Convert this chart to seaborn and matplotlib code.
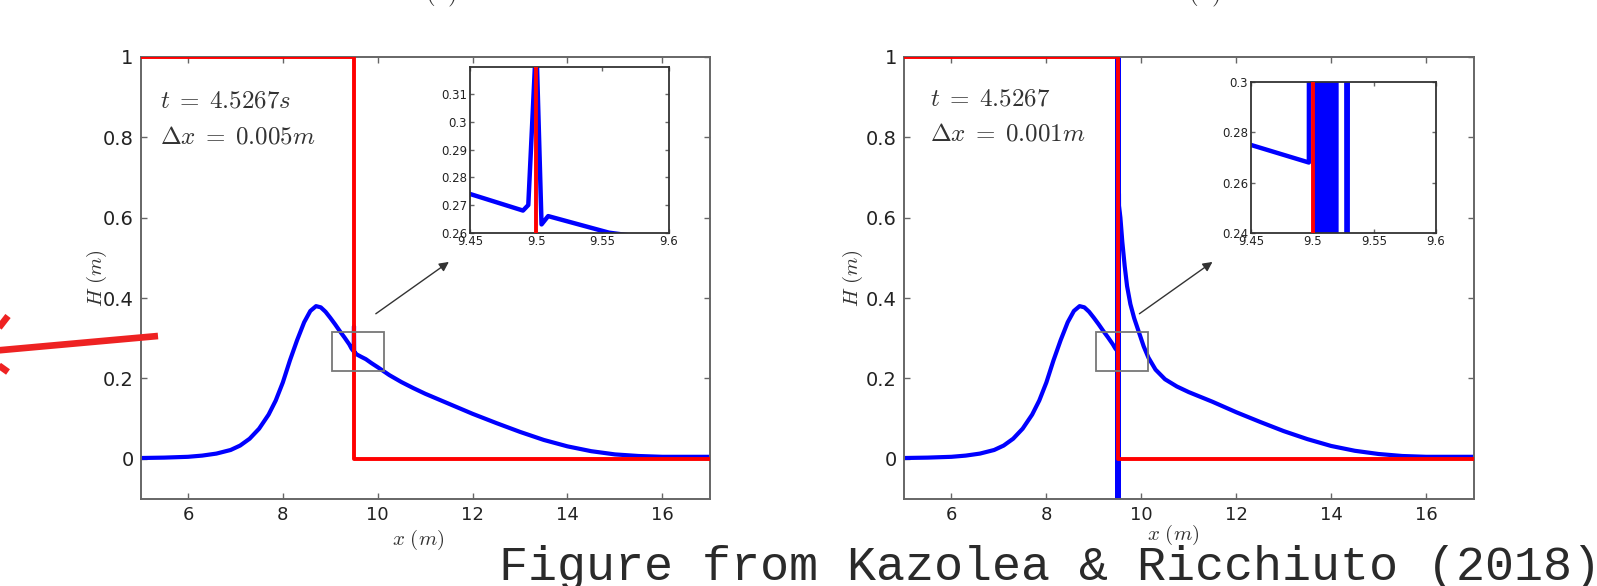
import numpy as np
import pandas as pd
import matplotlib
matplotlib.use("Agg")
import matplotlib.pyplot as plt
import seaborn as sns
from matplotlib.patches import Rectangle
from matplotlib.lines import Line2D

# ---------------- data ----------------
# panel (a): dx = 0.005 m
a_x = [5.0, 5.5, 6.0, 6.3, 6.6, 6.9, 7.1, 7.3, 7.5, 7.7, 7.85, 8.0, 8.15, 8.3, 8.45,
       8.58, 8.7, 8.8, 8.9, 9.0, 9.1, 9.2, 9.3, 9.4, 9.45,
       9.49, 9.494, 9.5, 9.504, 9.509, 9.555, 9.65, 9.75, 9.87, 10.0, 10.25, 10.5,
       10.75, 11.0, 11.5, 12.0, 12.5, 13.0, 13.5, 14.0, 14.5, 15.0, 15.5, 16.0, 17.0]
a_h = [0.002, 0.003, 0.005, 0.008, 0.013, 0.022, 0.033, 0.05, 0.075, 0.11, 0.145, 0.19,
       0.245, 0.295, 0.34, 0.368, 0.38, 0.377, 0.366, 0.351, 0.335, 0.318, 0.302, 0.285,
       0.274, 0.268, 0.270, 0.33, 0.263, 0.266, 0.260, 0.254, 0.248, 0.238, 0.228,
       0.208, 0.191, 0.176, 0.162, 0.137, 0.112, 0.089, 0.067, 0.047, 0.031, 0.019,
       0.011, 0.007, 0.005, 0.005]

# panel (b): dx = 0.001 m (oscillating shock near x = 9.5)
b_x = [5.0, 5.5, 6.0, 6.3, 6.6, 6.9, 7.1, 7.3, 7.5, 7.7, 7.85, 8.0, 8.15, 8.3, 8.45,
       8.58, 8.7, 8.8, 8.9, 9.0, 9.1, 9.2, 9.3, 9.4, 9.45,
       9.497, 9.498, 9.499, 9.500, 9.501, 9.502,
       9.503, 9.504, 9.505, 9.506, 9.507, 9.508, 9.509, 9.510, 9.511,
       9.512, 9.513, 9.514, 9.515, 9.516, 9.517, 9.518, 9.519, 9.520,
       9.521, 9.523, 9.525, 9.527, 9.528, 9.529, 9.53,
       9.56, 9.6, 9.65, 9.7, 9.77, 9.85, 9.95, 10.05, 10.15, 10.3, 10.5, 10.75,
       11.0, 11.5, 12.0, 12.5, 13.0, 13.5, 14.0, 14.5, 15.0, 15.5, 16.0, 17.0]
b_h = [0.002, 0.003, 0.005, 0.008, 0.013, 0.022, 0.033, 0.05, 0.075, 0.11, 0.145, 0.19,
       0.245, 0.295, 0.34, 0.368, 0.38, 0.377, 0.366, 0.351, 0.335, 0.318, 0.302, 0.285,
       0.275, 0.268, 1.10, 1.06, 1.02, 0.98, 0.95,
       -0.30, 1.20, -0.30, 1.20, -0.30, 1.20, -0.30, 1.20, -0.30,
       1.20, -0.30, 1.20, -0.30, 1.20, -0.30, 1.20, -0.30, 1.20,
       0.72, 0.71, 0.70, 0.69, -0.20, 0.66, 0.63,
       0.60, 0.54, 0.48, 0.43, 0.385, 0.35, 0.315, 0.28, 0.252, 0.222, 0.198, 0.18,
       0.166, 0.142, 0.116, 0.092, 0.069, 0.049, 0.032, 0.02, 0.012, 0.007, 0.005, 0.005]

# red indicator (step)
step_x = [5.0, 9.5, 9.5, 17.0]
step_h = [1.0, 1.0, 0.0, 0.0]

xticks = [6, 8, 10, 12, 14, 16]
yticks = [0, 0.2, 0.4, 0.6, 0.8, 1.0]
ytick_labels = ["0", "0.2", "0.4", "0.6", "0.8", "1"]
inset_xticks = [9.45, 9.5, 9.55, 9.6]
inset_xlabels = ["9.45", "9.5", "9.55", "9.6"]
a_inset_yticks = [0.26, 0.27, 0.28, 0.29, 0.30, 0.31]
a_inset_ylabels = ["0.26", "0.27", "0.28", "0.29", "0.3", "0.31"]
b_inset_yticks = [0.24, 0.26, 0.28, 0.30]
b_inset_ylabels = ["0.24", "0.26", "0.28", "0.3"]

# ---------------- style ----------------
sns.set_theme(style="white")
plt.rcParams["font.family"] = ["DejaVu Sans"]
plt.rcParams["mathtext.fontset"] = "cm"

W, H = 1597, 586
fig = plt.figure(figsize=(W / 100, H / 100), dpi=100)

BLUE = "#0000ff"
RED = "#ff0000"
SPINE = "#666666"

def px_ax(l, t, r, b):
    return [l / W, 1 - b / H, (r - l) / W, (b - t) / H]

def style_axes(ax, lw=1.4, size=4, labelsize=13):
    for s in ax.spines.values():
        s.set_color(SPINE)
        s.set_linewidth(lw)
        s.set_visible(True)
    ax.tick_params(direction="in", top=True, right=True, bottom=True, left=True,
                   length=size, width=1.0, color=SPINE, labelsize=labelsize,
                   labelcolor="#222222", pad=5)

panels = [
    dict(l=140.5, r=709.8, x=a_x, h=a_h, t1=r"$t\;=\;4.5267s$", t2=r"$\Delta x\;=\;0.005m$",
         tx=0.034, ty=(0.902, 0.820), ylab_x=-0.076, xlab=(0.487, -0.093),
         inset=(470, 66.7, 668.7, 232.7), iy=(0.26, 0.32), iyt=a_inset_yticks,
         iyl=a_inset_ylabels, title_x=441),
    dict(l=904.0, r=1473.5, x=b_x, h=b_h, t1=r"$t\;=\;4.5267$", t2=r"$\Delta x\;=\;0.001m$",
         tx=0.046, ty=(0.907, 0.828), ylab_x=-0.0895, xlab=(0.473, -0.081),
         inset=(1251, 82.3, 1435.7, 232.7), iy=(0.24, 0.30), iyt=b_inset_yticks,
         iyl=b_inset_ylabels, title_x=1204),
]

for i, p in enumerate(panels):
    ax = fig.add_axes(px_ax(p["l"], 57, p["r"], 499))
    df_b = pd.DataFrame({"x": p["x"], "H": p["h"]})
    df_r = pd.DataFrame({"x": step_x, "H": step_h})
    sns.lineplot(data=df_b, x="x", y="H", estimator=None, sort=False,
                 color=BLUE, linewidth=3.0, ax=ax, zorder=2)
    sns.lineplot(data=df_r, x="x", y="H", estimator=None, sort=False,
                 color=RED, linewidth=2.8, ax=ax, zorder=3)
    for ln in ax.lines:
        ln.set_solid_joinstyle("round")
    ax.set_xlim(5, 17)
    ax.set_ylim(-0.1, 1.0)
    ax.set_xticks(xticks)
    ax.set_xticklabels([str(v) for v in xticks])
    ax.set_yticks(yticks)
    ax.set_yticklabels(ytick_labels)
    style_axes(ax, labelsize=13)
    ax.tick_params(axis="y", labelsize=14)
    ax.set_xlabel(r"$x\ (m)$", fontsize=15, color="#333333")
    ax.set_ylabel(r"$H\ (m)$", fontsize=15, color="#333333")
    ax.xaxis.set_label_coords(*p["xlab"])
    ax.xaxis.label.set_verticalalignment("center")
    ax.yaxis.set_label_coords(p["ylab_x"], 0.5)
    ax.yaxis.label.set_verticalalignment("center")

    ax.text(p["tx"], p["ty"][0], p["t1"], transform=ax.transAxes, fontsize=18,
            color="#333333", va="center", ha="left")
    ax.text(p["tx"], p["ty"][1], p["t2"], transform=ax.transAxes, fontsize=18,
            color="#333333", va="center", ha="left")

    ax.add_patch(Rectangle((9.04, 0.219), 1.1, 0.097, fill=False,
                           edgecolor="#777777", linewidth=1.3, zorder=4))
    ax.annotate("", xy=(11.5, 0.49), xytext=(9.96, 0.361),
                arrowprops=dict(arrowstyle="-|>", color="#333333", lw=1.0,
                                mutation_scale=14, shrinkA=0, shrinkB=0))

    # inset
    l, t, r, b = p["inset"]
    ia = fig.add_axes(px_ax(l, t, r, b))
    ia.set_facecolor("white")
    sns.lineplot(data=df_b, x="x", y="H", estimator=None, sort=False,
                 color=BLUE, linewidth=3.2, ax=ia, zorder=2)
    sns.lineplot(data=df_r, x="x", y="H", estimator=None, sort=False,
                 color=RED, linewidth=2.8, ax=ia, zorder=3)
    ia.set_xlim(9.45, 9.6)
    ia.set_ylim(*p["iy"])
    ia.set_xticks(inset_xticks)
    ia.set_xticklabels(inset_xlabels)
    ia.set_yticks(p["iyt"])
    ia.set_yticklabels(p["iyl"])
    ia.set_xlabel("")
    ia.set_ylabel("")
    style_axes(ia, lw=1.3, size=3, labelsize=8.5)
    for s in ia.spines.values():
        s.set_color("#333333")
    ia.tick_params(pad=2)

    # cut-off panel title at the top edge
    fig.text(p["title_x"] / W, 1.0, r"$\mathrm{(%s)}$" % ("a" if i == 0 else "b"),
             fontsize=18, ha="center", va="baseline", color="#333333")

# red arrow at the left edge (figure pixel space)
def fl(xs, ys, lw):
    fig.add_artist(Line2D([v / W for v in xs], [1 - v / H for v in ys],
                          transform=fig.transFigure, color="#ee2222",
                          linewidth=lw, solid_capstyle="butt"))

fl([158, -20], [336, 352], 4.8)
fl([-20, 8], [352, 316], 4.8)
fl([-20, 8], [352, 372], 4.8)

fig.text(499 / W, 1 - 580 / H, "Figure from Kazolea & Ricchiuto (2018)",
         family=["Liberation Mono", "DejaVu Sans Mono"], fontsize=34.8,
         color="#2a2a2a", ha="left", va="baseline")

fig.savefig("out.png", dpi=100)
